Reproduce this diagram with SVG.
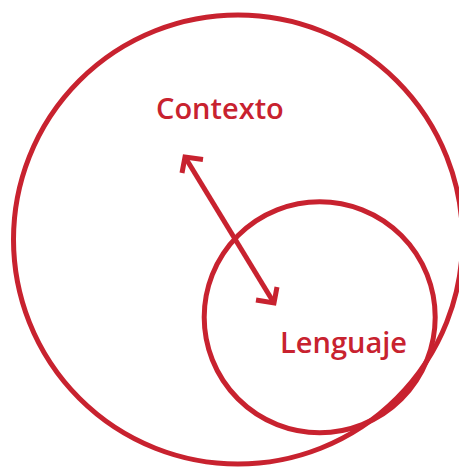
<svg xmlns="http://www.w3.org/2000/svg" width="459" height="468" viewBox="0 0 459 468">
<style>
.c{fill:none;stroke:#c8222f;stroke-width:5}
.a{fill:none;stroke:#c8222f;stroke-width:5;stroke-linejoin:miter;stroke-miterlimit:10}
.t{font-family:"Open Sans","Noto Sans",sans-serif;font-weight:600;font-size:29px;fill:#c8222f}
</style>
<rect width="459" height="468" fill="#fff"/>
<g id="contexto">
<circle class="c" cx="238" cy="239.5" r="224.5"/>
<text class="t" x="156" y="118.5">Contexto</text>
</g>
<g id="lenguaje">
<circle class="c" cx="319.7" cy="317.2" r="115.5"/>
<text class="t" x="280" y="353">Lenguaje</text>
</g>
<g id="connectors">
<line class="a" x1="185" y1="157" x2="274" y2="303"/>
<polyline class="a" points="182,173 185,157 203,159.5"/>
<polyline class="a" points="277,287 274,303 256,300"/>
</g>
</svg>
